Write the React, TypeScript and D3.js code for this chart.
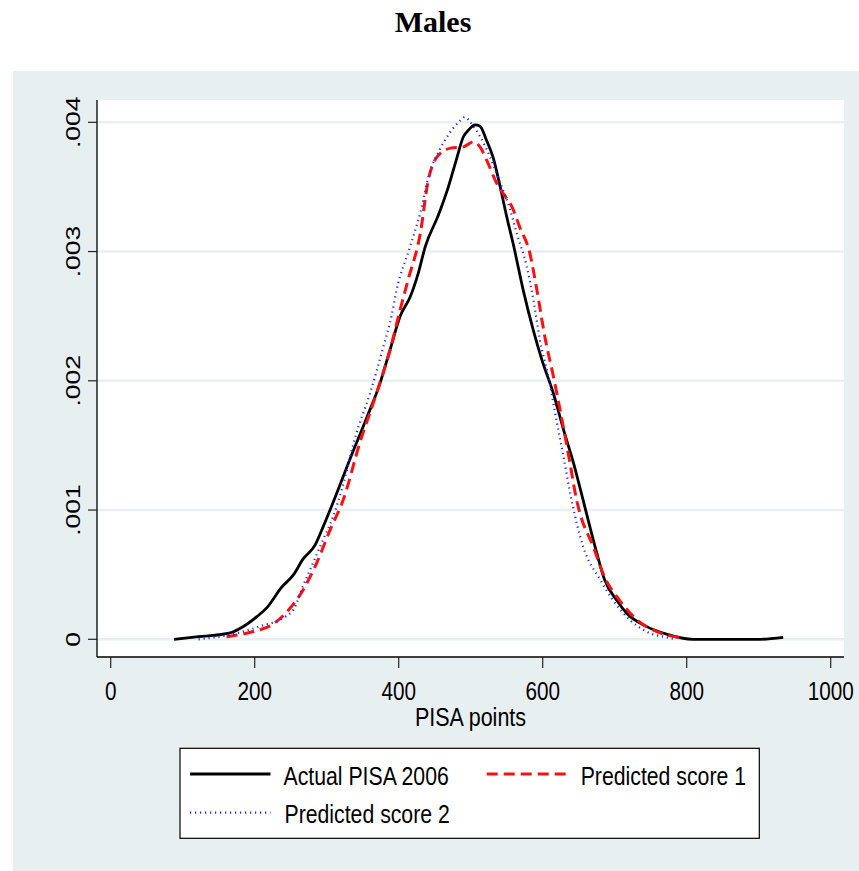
import React from "react";
import * as d3 from "d3";

// ---- Data ----
const actualX = [88, 122, 166, 180, 203, 217, 237, 254, 267, 284, 295, 309, 332, 356, 374, 388, 402, 416, 427, 437, 455, 469, 480, 490, 497, 506, 513, 522, 531, 541, 550, 559, 573, 587, 599, 615, 629, 643, 656, 661, 675, 686, 703, 717, 744, 772, 809, 902, 934];
const actualY = [0, 0.00002, 0.00005, 0.000085, 0.000175, 0.000245, 0.0004, 0.0005, 0.00062, 0.00073, 0.00087, 0.00106, 0.00139, 0.00172, 0.00198, 0.00224, 0.0025, 0.00265, 0.00283, 0.00304, 0.00328, 0.0035, 0.00371, 0.00389, 0.00394, 0.00398, 0.00397, 0.00386, 0.00373, 0.0035, 0.00327, 0.00306, 0.0027, 0.00239, 0.00216, 0.0019, 0.00162, 0.00136, 0.00108, 0.00097, 0.00067, 0.00046, 0.0003, 0.0002, 0.0001, 0.00004, 0, 0, 0.000015];

const pred1X = [161, 198, 226, 249, 267, 286, 305, 323, 346, 369, 388, 402, 413, 430, 441, 453, 472, 490, 504, 513, 522, 536, 550, 557, 568, 582, 592, 603, 615, 626, 638, 647, 652, 670, 686, 707, 731, 763, 795];
const pred1Y = [0.00002, 0.00006, 0.00012, 0.00024, 0.00038, 0.00059, 0.00085, 0.00108, 0.00152, 0.0019, 0.00224, 0.00255, 0.00278, 0.00314, 0.00355, 0.00373, 0.0038, 0.00381, 0.00385, 0.00381, 0.00371, 0.00353, 0.00341, 0.00335, 0.00319, 0.00299, 0.0027, 0.00234, 0.00203, 0.00172, 0.00136, 0.00108, 0.00097, 0.00072, 0.00048, 0.0003, 0.00015, 0.00005, 0.00001];

const pred2X = [122, 170, 207, 244, 254, 267, 281, 295, 309, 321, 341, 360, 379, 390, 397, 416, 430, 443, 457, 471, 483, 492, 501, 513, 527, 541, 555, 564, 578, 587, 596, 608, 620, 629, 640, 656, 680, 698, 721, 744, 777, 786];
const pred2Y = [0, 0.00004, 0.0001, 0.00018, 0.00023, 0.00041, 0.00059, 0.00077, 0.00095, 0.00116, 0.00159, 0.0019, 0.00227, 0.0025, 0.0027, 0.00304, 0.0033, 0.00361, 0.00379, 0.00392, 0.004, 0.00404, 0.00399, 0.00389, 0.00373, 0.00353, 0.00332, 0.00314, 0.00288, 0.00263, 0.00232, 0.00203, 0.00167, 0.00141, 0.00108, 0.00072, 0.00046, 0.0003, 0.00015, 0.00006, 0.00001, 0];

const xTicks = [0, 200, 400, 600, 800, 1000];
const yTicks = [0, 0.001, 0.002, 0.003, 0.004];
const yTickLabels = ["0", ".001", ".002", ".003", ".004"];
const seriesNames = ["Actual PISA 2006", "Predicted score 1", "Predicted score 2"];

const W = 859;
const H = 871;
const BG = "#e8eff1";
const SANS = "'Liberation Sans', Arial, Helvetica, sans-serif";

export default function App() {
  const plotL = 97, plotR = 844, plotT = 100, plotB = 657;
  const x = d3.scaleLinear().domain([0, 1000]).range([110.7, 830.7]);
  const y = d3.scaleLinear().domain([0, 0.004]).range([639.3, 122.3]);

  const line = d3
    .line<[number, number]>()
    .x((d) => x(d[0]))
    .y((d) => y(d[1]))
    .curve(d3.curveMonotoneX);

  const zip = (a: number[], b: number[]) => a.map((v, i) => [v, b[i]] as [number, number]);

  const styles = [
    { stroke: "#000000", width: 2.8, dash: undefined as string | undefined },
    { stroke: "#ff1010", width: 3, dash: "11 6" },
    { stroke: "#2525ff", width: 2.2, dash: "1.2 3.8" },
  ];

  const data = [zip(actualX, actualY), zip(pred1X, pred1Y), zip(pred2X, pred2Y)];

  return (
    <svg width={W} height={H} style={{ display: "block", position: "absolute", left: 0, top: 0 }}>
      <rect x={0} y={0} width={W} height={H} fill="#ffffff" />
      <rect x={13} y={71} width={W - 13} height={H - 71} fill={BG} />
      <text x={433} y={32} textAnchor="middle" fontFamily="'Liberation Serif', 'Times New Roman', serif" fontWeight="bold" fontSize={30} fill="#000">
        Males
      </text>

      {/* plot region */}
      <rect x={plotL} y={plotT} width={plotR - plotL} height={plotB - plotT} fill="#ffffff" />
      {yTicks.map((t) => (
        <line key={"g" + t} x1={plotL} x2={plotR} y1={y(t)} y2={y(t)} stroke={BG} strokeWidth={2.4} />
      ))}

      {/* curves */}
      {data.map((d, i) => (
        <path
          key={i}
          d={line(d) || ""}
          fill="none"
          stroke={styles[i].stroke}
          strokeWidth={styles[i].width}
          strokeDasharray={styles[i].dash}
          strokeLinejoin="round"
        />
      ))}

      {/* axes */}
      <line x1={plotL} x2={plotL} y1={plotT} y2={plotB} stroke="#000" strokeWidth={1.3} />
      <line x1={plotL} x2={plotR} y1={plotB} y2={plotB} stroke="#000" strokeWidth={1.3} />
      {yTicks.map((t, i) => (
        <g key={"yt" + t}>
          <line x1={88} x2={plotL} y1={y(t)} y2={y(t)} stroke="#222" strokeWidth={1.2} />
          <text
            transform={`translate(80,${y(t)}) scale(0.78,1) rotate(-90)`}
            textAnchor="middle"
            fontFamily={SANS}
            fontSize={26.5}
            fill="#000"
          >
            {yTickLabels[i]}
          </text>
        </g>
      ))}
      {xTicks.map((t) => (
        <g key={"xt" + t}>
          <line x1={x(t)} x2={x(t)} y1={plotB} y2={668} stroke="#222" strokeWidth={1.2} />
          <text transform={`translate(${x(t)},700) scale(0.81,1)`} textAnchor="middle" fontFamily={SANS} fontSize={25.6} fill="#000">
            {t}
          </text>
        </g>
      ))}
      <text transform={`translate(470.5,726) scale(0.84,1)`} textAnchor="middle" fontFamily={SANS} fontSize={25.6} fill="#000">
        PISA points
      </text>

      {/* legend */}
      <rect x={180} y={748.3} width={579.3} height={90} fill="#ffffff" stroke="#000" strokeWidth={1.2} />
      {[
        { lx: 190, ly: 774, tx: 283.5, ty: 785 },
        { lx: 486.7, ly: 774, tx: 580.7, ty: 785 },
        { lx: 190, ly: 812.7, tx: 284.5, ty: 823.3 },
      ].map((p, i) => (
        <g key={"lg" + i}>
          <line
            x1={p.lx}
            x2={p.lx + 80.5}
            y1={p.ly}
            y2={p.ly}
            stroke={styles[i].stroke}
            strokeWidth={styles[i].width}
            strokeDasharray={styles[i].dash}
          />
          <text transform={`translate(${p.tx},${p.ty}) scale(0.83,1)`} fontFamily={SANS} fontSize={25.6} fill="#000">
            {seriesNames[i]}
          </text>
        </g>
      ))}
    </svg>
  );
}
